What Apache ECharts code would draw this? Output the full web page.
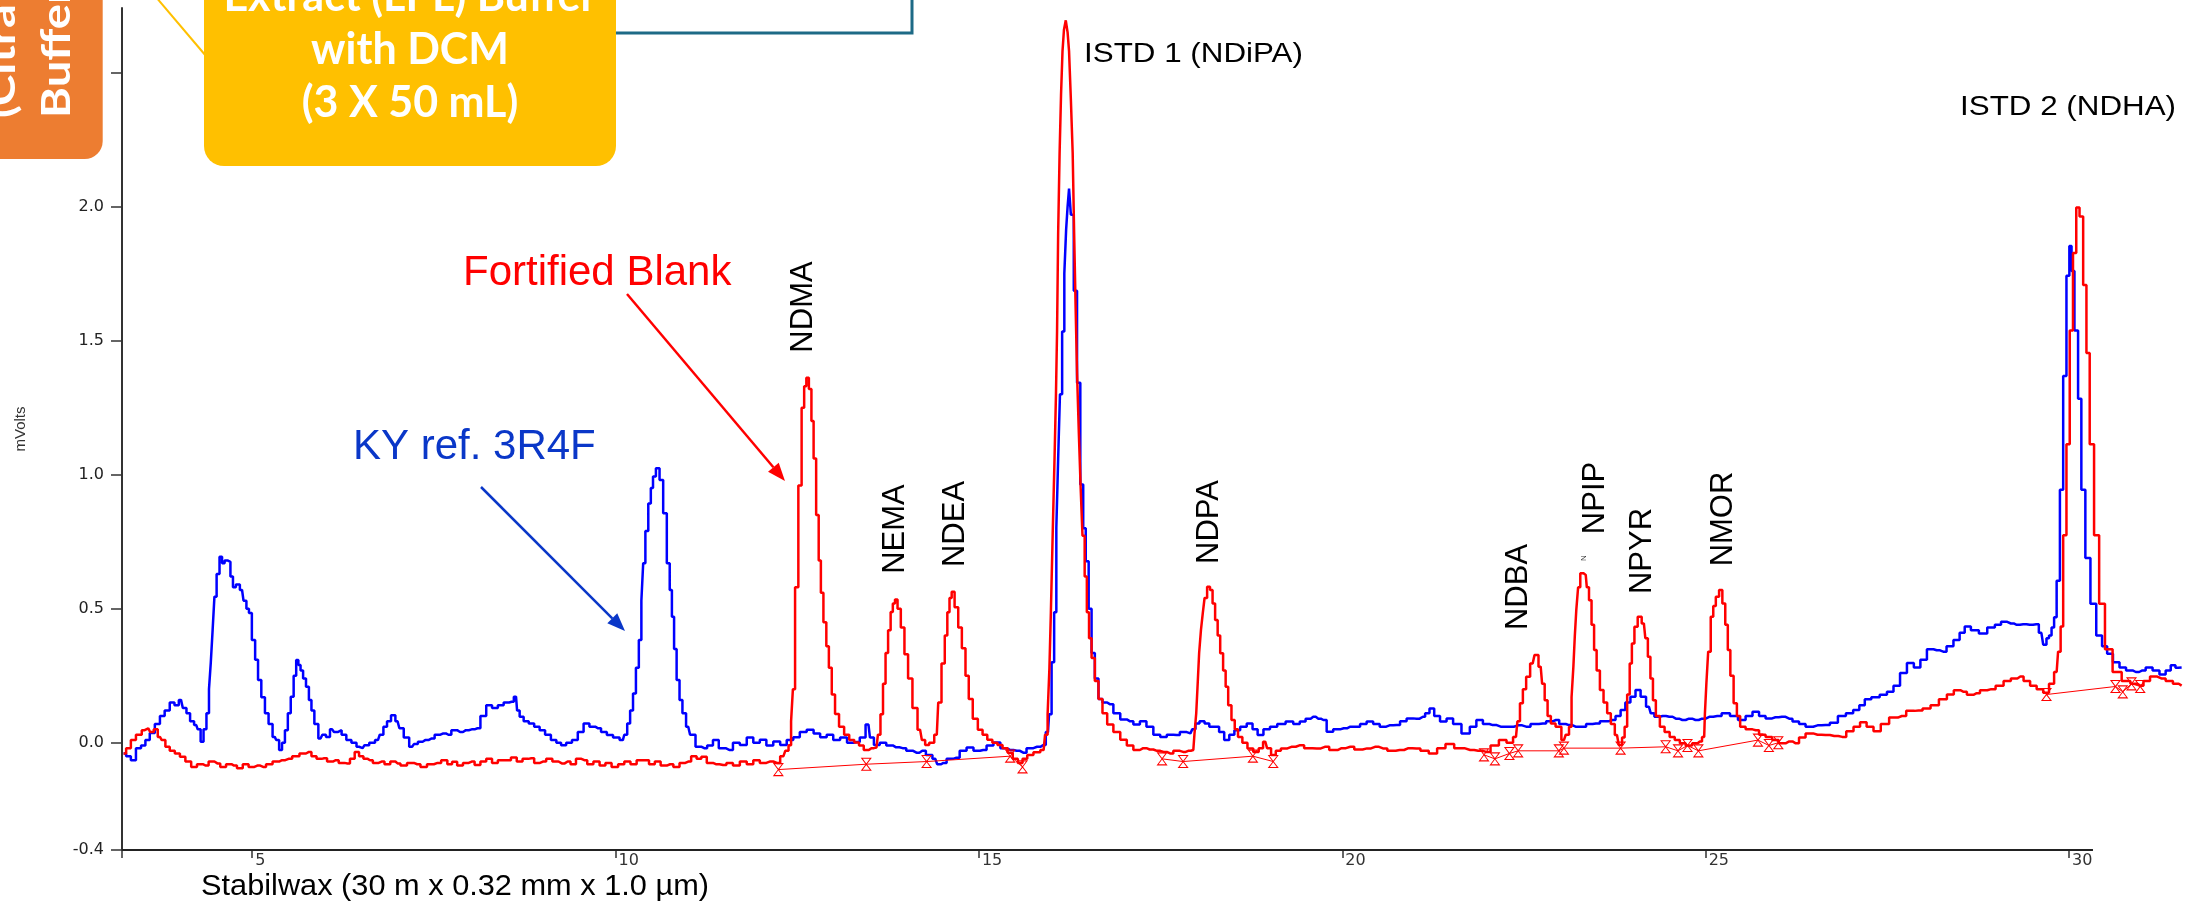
<!DOCTYPE html>
<html><head><meta charset="utf-8">
<script src="https://cdn.jsdelivr.net/npm/echarts@6/dist/echarts.min.js"></script>
<style>html,body{margin:0;padding:0;background:#fff;overflow:hidden}#c{width:2198px;height:906px}</style>
</head><body><div id="c"></div><script>
// ---------------- DATA ----------------
// KY ref. 3R4F trace: [time (min), signal (mVolts)]
const kyRef3R4F = [
[3.23,-0.04],[3.30,-0.05],[3.36,-0.065],[3.44,-0.02],[3.50,-0.01],[3.56,0.01],[3.62,0.036],[3.70,0.07],[3.76,0.10],[3.83,0.12],
[3.90,0.15],[3.96,0.14],[4.02,0.16],[4.07,0.13],[4.12,0.11],[4.17,0.08],[4.23,0.066],[4.27,0.05],[4.31,0.004],[4.35,0.05],
[4.39,0.11],[4.42,0.20],[4.44,0.30],[4.47,0.42],[4.49,0.545],[4.53,0.63],[4.57,0.694],[4.60,0.67],[4.64,0.68],[4.68,0.675],
[4.72,0.62],[4.75,0.58],[4.80,0.59],[4.86,0.57],[4.90,0.53],[4.94,0.50],[4.97,0.484],[5.02,0.383],[5.06,0.31],[5.10,0.234],
[5.15,0.17],[5.20,0.11],[5.25,0.07],[5.31,0.022],[5.35,0.01],[5.39,-0.027],[5.43,0.00],[5.47,0.047],[5.51,0.11],[5.55,0.172],
[5.59,0.25],[5.62,0.309],[5.65,0.29],[5.68,0.27],[5.72,0.24],[5.76,0.209],[5.80,0.16],[5.83,0.12],[5.88,0.07],[5.94,0.016],
[5.99,0.03],[6.04,0.022],[6.10,0.05],[6.15,0.04],[6.20,0.047],[6.26,0.03],[6.33,0.01],[6.40,0.00],[6.47,-0.015],[6.52,-0.02],
[6.57,-0.009],[6.65,0.00],[6.73,0.01],[6.78,0.03],[6.83,0.06],[6.88,0.08],[6.94,0.103],[7.00,0.08],[7.05,0.054],[7.12,0.02],
[7.20,-0.015],[7.25,-0.005],[7.31,0.004],[7.38,0.01],[7.47,0.016],[7.55,0.03],[7.63,0.035],[7.70,0.03],[7.78,0.047],[7.86,0.04],
[7.94,0.047],[8.02,0.05],[8.10,0.054],[8.18,0.10],[8.26,0.14],[8.34,0.13],[8.42,0.14],[8.50,0.15],[8.57,0.153],[8.63,0.172],
[8.66,0.12],[8.70,0.097],[8.77,0.08],[8.84,0.072],[8.92,0.06],[8.99,0.047],[9.07,0.03],[9.15,0.01],[9.22,0.00],[9.28,-0.009],
[9.36,0.00],[9.44,0.01],[9.52,0.04],[9.60,0.072],[9.68,0.06],[9.76,0.054],[9.84,0.04],[9.92,0.029],[10.01,0.02],[10.10,0.01],
[10.14,0.03],[10.18,0.072],[10.22,0.12],[10.26,0.184],[10.30,0.28],[10.34,0.383],[10.37,0.53],[10.39,0.67],[10.43,0.79],[10.47,0.893],
[10.50,0.95],[10.53,0.993],[10.58,1.024],[10.63,0.98],[10.68,0.856],[10.73,0.67],[10.76,0.57],[10.79,0.47],[10.82,0.35],[10.86,0.234],
[10.90,0.16],[10.94,0.11],[11.00,0.06],[11.05,0.03],[11.15,-0.015],[11.22,-0.02],[11.30,-0.01],[11.38,0.01],[11.46,-0.02],[11.57,-0.027],
[11.66,0.00],[11.76,-0.008],[11.85,0.02],[11.94,0.00],[12.03,0.011],[12.12,-0.01],[12.22,0.005],[12.31,-0.008],[12.40,0.01],[12.49,0.021],
[12.58,0.04],[12.68,0.049],[12.77,0.035],[12.86,0.021],[12.95,0.03],[13.04,0.01],[13.14,0.02],[13.23,0.00],[13.32,0.003],[13.40,0.02],
[13.48,0.068],[13.52,0.02],[13.59,-0.008],[13.68,0.00],[13.77,-0.01],[13.86,-0.017],[13.95,-0.02],[14.05,-0.03],[14.14,-0.037],[14.22,-0.03],
[14.32,-0.046],[14.40,-0.06],[14.45,-0.08],[14.51,-0.075],[14.60,-0.06],[14.69,-0.056],[14.78,-0.03],[14.88,-0.018],[14.97,-0.03],[15.06,-0.027],
[15.15,-0.01],[15.25,0.001],[15.34,-0.02],[15.43,-0.027],[15.52,-0.03],[15.61,-0.037],[15.70,-0.02],[15.80,-0.015],[15.89,-0.008],[15.95,0.04],
[15.98,0.106],[16.02,0.30],[16.05,0.487],[16.08,0.80],[16.10,1.058],[16.13,1.30],[16.16,1.534],[16.19,1.75],[16.21,1.915],[16.23,2.00],
[16.25,2.067],[16.28,1.97],[16.33,1.686],[16.37,1.343],[16.42,0.963],[16.45,0.80],[16.49,0.677],[16.53,0.50],[16.57,0.335],[16.62,0.24],
[16.67,0.163],[16.73,0.15],[16.80,0.144],[16.90,0.11],[16.99,0.087],[17.08,0.08],[17.17,0.068],[17.26,0.08],[17.35,0.06],[17.45,0.03],
[17.54,0.022],[17.63,0.03],[17.72,0.029],[17.81,0.04],[17.91,0.035],[17.96,0.05],[18.00,0.072],[18.07,0.08],[18.14,0.072],[18.20,0.06],
[18.27,0.06],[18.34,0.04],[18.41,0.01],[18.48,0.03],[18.55,0.047],[18.64,0.06],[18.73,0.072],[18.80,0.05],[18.87,0.029],[18.96,0.05],
[19.05,0.06],[19.16,0.07],[19.28,0.079],[19.37,0.07],[19.46,0.079],[19.53,0.09],[19.60,0.097],[19.67,0.09],[19.74,0.085],[19.83,0.041],
[19.92,0.05],[20.02,0.054],[20.11,0.06],[20.20,0.06],[20.29,0.07],[20.38,0.079],[20.47,0.07],[20.56,0.06],[20.65,0.065],[20.75,0.066],
[20.84,0.08],[20.93,0.091],[21.02,0.09],[21.11,0.097],[21.17,0.11],[21.23,0.128],[21.30,0.10],[21.39,0.079],[21.48,0.091],[21.57,0.07],
[21.71,0.035],[21.80,0.06],[21.89,0.085],[21.98,0.07],[22.07,0.066],[22.18,0.06],[22.30,0.06],[22.42,0.065],[22.53,0.06],[22.65,0.07],
[22.76,0.072],[22.85,0.08],[22.94,0.085],[23.03,0.07],[23.12,0.066],[23.21,0.06],[23.31,0.06],[23.40,0.07],[23.49,0.072],[23.60,0.08],
[23.72,0.085],[23.80,0.10],[23.86,0.122],[23.93,0.15],[24.00,0.172],[24.07,0.197],[24.14,0.172],[24.22,0.134],[24.27,0.11],[24.32,0.097],
[24.41,0.10],[24.50,0.097],[24.59,0.09],[24.68,0.085],[24.77,0.09],[24.86,0.085],[24.95,0.09],[25.05,0.097],[25.16,0.10],[25.28,0.11],
[25.39,0.10],[25.50,0.085],[25.60,0.10],[25.69,0.116],[25.78,0.10],[25.87,0.091],[25.96,0.095],[26.05,0.097],[26.15,0.09],[26.24,0.079],
[26.33,0.07],[26.42,0.06],[26.54,0.065],[26.65,0.066],[26.77,0.075],[26.87,0.10],[26.99,0.11],[27.07,0.122],[27.16,0.14],[27.22,0.162],
[27.34,0.17],[27.45,0.179],[27.54,0.19],[27.63,0.213],[27.72,0.26],[27.82,0.298],[27.91,0.281],[28.00,0.31],[28.09,0.349],[28.18,0.345],
[28.27,0.34],[28.36,0.36],[28.46,0.383],[28.53,0.41],[28.60,0.434],[28.70,0.42],[28.82,0.408],[28.93,0.43],[29.03,0.44],[29.10,0.451],
[29.20,0.445],[29.28,0.44],[29.37,0.442],[29.46,0.44],[29.55,0.442],[29.62,0.41],[29.67,0.366],[29.71,0.39],[29.74,0.40],[29.78,0.43],
[29.81,0.468],[29.85,0.604],[29.90,0.944],[29.94,1.368],[29.99,1.742],[30.02,1.853],[30.05,1.76],[30.10,1.538],[30.15,1.283],[30.19,0.944],
[30.26,0.689],[30.33,0.519],[30.42,0.40],[30.49,0.36],[30.56,0.332],[30.65,0.30],[30.74,0.281],[30.83,0.27],[30.92,0.264],[31.01,0.27],
[31.10,0.281],[31.20,0.27],[31.29,0.255],[31.37,0.27],[31.43,0.289],[31.50,0.28],[31.55,0.281]
];
// Fortified Blank trace: [time (min), signal (mVolts)]
const fortifiedBlank = [
[3.23,-0.04],[3.30,-0.02],[3.36,0.01],[3.44,0.03],[3.52,0.047],[3.57,0.054],[3.62,0.04],[3.67,0.05],[3.73,0.022],[3.78,0.01],
[3.83,-0.015],[3.90,-0.03],[3.97,-0.04],[4.04,-0.052],[4.12,-0.07],[4.20,-0.09],[4.28,-0.08],[4.36,-0.085],[4.44,-0.07],[4.52,-0.077],
[4.60,-0.09],[4.68,-0.08],[4.75,-0.085],[4.83,-0.095],[4.91,-0.08],[4.99,-0.09],[5.07,-0.085],[5.15,-0.09],[5.23,-0.08],[5.33,-0.07],
[5.41,-0.065],[5.50,-0.06],[5.60,-0.05],[5.70,-0.04],[5.78,-0.034],[5.85,-0.05],[5.92,-0.06],[5.99,-0.058],[6.07,-0.07],[6.15,-0.065],
[6.23,-0.075],[6.31,-0.077],[6.38,-0.06],[6.44,-0.034],[6.50,-0.05],[6.56,-0.06],[6.62,-0.065],[6.70,-0.075],[6.78,-0.07],[6.86,-0.08],
[6.94,-0.07],[7.00,-0.077],[7.08,-0.085],[7.18,-0.075],[7.27,-0.08],[7.36,-0.09],[7.45,-0.08],[7.55,-0.075],[7.65,-0.065],[7.72,-0.08],
[7.78,-0.071],[7.86,-0.085],[7.94,-0.075],[8.02,-0.07],[8.10,-0.083],[8.18,-0.07],[8.26,-0.06],[8.34,-0.075],[8.42,-0.065],[8.52,-0.065],
[8.60,-0.055],[8.68,-0.07],[8.76,-0.06],[8.84,-0.058],[8.92,-0.075],[9.00,-0.07],[9.09,-0.06],[9.17,-0.07],[9.26,-0.077],[9.34,-0.07],
[9.42,-0.08],[9.49,-0.06],[9.57,-0.065],[9.65,-0.08],[9.74,-0.07],[9.82,-0.085],[9.90,-0.075],[9.99,-0.09],[10.08,-0.08],[10.16,-0.07],
[10.25,-0.08],[10.33,-0.065],[10.42,-0.065],[10.50,-0.08],[10.58,-0.07],[10.66,-0.085],[10.75,-0.08],[10.84,-0.09],[10.92,-0.075],[11.00,-0.07],
[11.08,-0.05],[11.15,-0.06],[11.21,-0.052],[11.30,-0.075],[11.38,-0.08],[11.48,-0.083],[11.57,-0.075],[11.66,-0.085],[11.76,-0.07],[11.85,-0.08],
[11.94,-0.065],[12.03,-0.075],[12.12,-0.07],[12.22,-0.075],[12.31,-0.05],[12.36,-0.03],[12.40,-0.009],[12.43,0.08],[12.45,0.2],[12.49,0.58],
[12.54,0.96],[12.58,1.25],[12.61,1.33],[12.64,1.362],[12.68,1.32],[12.71,1.20],[12.74,1.06],[12.78,0.85],[12.81,0.68],[12.84,0.56],
[12.88,0.45],[12.92,0.36],[12.95,0.28],[13.00,0.18],[13.04,0.107],[13.11,0.06],[13.18,0.03],[13.25,0.01],[13.32,0.001],[13.38,-0.01],
[13.45,-0.027],[13.52,-0.02],[13.59,-0.018],[13.63,0.03],[13.66,0.106],[13.70,0.22],[13.73,0.335],[13.77,0.42],[13.80,0.488],[13.83,0.52],
[13.86,0.534],[13.90,0.50],[13.95,0.43],[14.00,0.33],[14.05,0.24],[14.12,0.13],[14.19,0.049],[14.24,0.01],[14.28,-0.008],[14.35,0.00],
[14.42,0.03],[14.46,0.15],[14.51,0.296],[14.55,0.40],[14.58,0.487],[14.61,0.54],[14.64,0.563],[14.69,0.506],[14.74,0.43],[14.79,0.353],
[14.84,0.25],[14.88,0.163],[14.95,0.09],[15.02,0.049],[15.08,0.03],[15.15,0.011],[15.22,0.00],[15.29,-0.008],[15.36,-0.02],[15.43,-0.037],
[15.50,-0.06],[15.57,-0.075],[15.63,-0.06],[15.70,-0.046],[15.80,-0.035],[15.89,-0.027],[15.93,0.03],[15.96,0.106],[15.98,0.28],[16.00,0.487],
[16.03,0.78],[16.05,1.058],[16.07,1.30],[16.08,1.534],[16.10,1.90],[16.12,2.2],[16.14,2.42],[16.16,2.58],[16.18,2.66],[16.21,2.695],
[16.23,2.65],[16.25,2.58],[16.28,2.40],[16.30,2.2],[16.32,1.90],[16.34,1.63],[16.36,1.38],[16.39,1.153],[16.41,0.95],[16.44,0.772],
[16.47,0.62],[16.50,0.487],[16.53,0.39],[16.57,0.316],[16.62,0.23],[16.67,0.163],[16.73,0.11],[16.80,0.068],[16.90,0.04],[16.99,0.011],
[17.08,-0.01],[17.17,-0.027],[17.26,-0.02],[17.35,-0.025],[17.45,-0.03],[17.54,-0.034],[17.63,-0.04],[17.72,-0.03],[17.81,-0.034],[17.88,-0.03],
[17.95,-0.027],[17.98,0.03],[18.00,0.11],[18.02,0.22],[18.04,0.334],[18.07,0.42],[18.09,0.483],[18.12,0.54],[18.16,0.582],[18.20,0.57],
[18.23,0.52],[18.27,0.458],[18.30,0.40],[18.34,0.334],[18.38,0.27],[18.41,0.209],[18.45,0.14],[18.50,0.085],[18.54,0.05],[18.59,0.022],
[18.66,0.00],[18.73,-0.021],[18.82,-0.034],[18.88,-0.02],[18.94,0.004],[18.99,-0.02],[19.05,-0.046],[19.12,-0.03],[19.19,-0.021],[19.30,-0.015],
[19.42,-0.009],[19.53,-0.02],[19.65,-0.021],[19.76,-0.015],[19.88,-0.027],[19.99,-0.02],[20.11,-0.015],[20.22,-0.025],[20.34,-0.021],[20.45,-0.015],
[20.56,-0.021],[20.68,-0.03],[20.79,-0.027],[20.91,-0.02],[21.02,-0.021],[21.13,-0.03],[21.25,-0.04],[21.36,-0.02],[21.48,-0.005],[21.60,-0.02],
[21.76,-0.027],[21.87,-0.03],[21.98,-0.034],[22.10,-0.01],[22.21,0.01],[22.31,0.00],[22.39,0.022],[22.43,0.08],[22.46,0.147],[22.51,0.20],
[22.55,0.246],[22.62,0.296],[22.67,0.327],[22.73,0.284],[22.77,0.22],[22.80,0.159],[22.85,0.10],[22.89,0.072],[22.98,0.06],[23.05,0.01],
[23.10,0.03],[23.14,0.06],[23.17,0.17],[23.19,0.284],[23.21,0.40],[23.23,0.495],[23.26,0.58],[23.29,0.632],[23.35,0.626],[23.38,0.58],
[23.41,0.532],[23.45,0.44],[23.48,0.346],[23.52,0.27],[23.57,0.197],[23.62,0.15],[23.67,0.11],[23.72,0.07],[23.78,0.029],[23.83,-0.008],
[23.87,0.02],[23.90,0.06],[23.94,0.18],[23.97,0.296],[24.00,0.37],[24.04,0.433],[24.09,0.47],[24.15,0.445],[24.19,0.39],[24.22,0.321],
[24.26,0.24],[24.29,0.159],[24.34,0.10],[24.40,0.06],[24.47,0.04],[24.54,0.022],[24.61,0.01],[24.68,-0.002],[24.77,-0.01],[24.86,-0.002],
[24.92,0.005],[24.98,0.022],[25.00,0.11],[25.02,0.22],[25.05,0.34],[25.09,0.47],[25.12,0.51],[25.16,0.545],[25.21,0.57],[25.25,0.52],
[25.29,0.44],[25.32,0.346],[25.36,0.25],[25.41,0.147],[25.45,0.10],[25.50,0.06],[25.60,0.05],[25.69,0.047],[25.78,0.03],[25.87,0.022],
[25.96,0.01],[26.05,-0.002],[26.15,0.005],[26.24,-0.002],[26.33,0.02],[26.42,0.035],[26.54,0.03],[26.65,0.029],[26.77,0.025],[26.88,0.022],
[26.99,0.043],[27.08,0.06],[27.17,0.077],[27.26,0.06],[27.36,0.043],[27.46,0.07],[27.59,0.094],[27.70,0.10],[27.82,0.119],[27.93,0.12],
[28.04,0.128],[28.15,0.14],[28.27,0.162],[28.37,0.18],[28.46,0.196],[28.55,0.19],[28.64,0.179],[28.73,0.185],[28.82,0.196],[28.93,0.20],
[29.05,0.213],[29.15,0.23],[29.25,0.24],[29.33,0.247],[29.42,0.23],[29.51,0.213],[29.60,0.20],[29.69,0.187],[29.76,0.22],[29.83,0.264],
[29.87,0.34],[29.90,0.434],[29.94,0.774],[29.99,1.114],[30.03,1.538],[30.08,1.827],[30.12,1.997],[30.17,1.963],[30.22,1.708],[30.26,1.454],
[30.31,1.114],[30.38,0.774],[30.45,0.519],[30.54,0.349],[30.66,0.264],[30.79,0.23],[30.90,0.22],[30.98,0.213],[31.07,0.23],[31.16,0.247],
[31.27,0.24],[31.39,0.23],[31.47,0.22],[31.55,0.213]
];
// Integration baselines of the fortified blank (peak start / end markers), one array per segment
const baselineSeg1 = [[12.24,-0.10],[13.45,-0.08],[14.28,-0.07],[15.43,-0.05],[15.60,-0.09]];
const baselineSeg2 = [[17.52,-0.06],[17.81,-0.07],[18.77,-0.05],[19.05,-0.07]];
const baselineSeg3 = [[21.95,-0.045],[22.10,-0.06],[22.30,-0.04],[22.42,-0.03],[22.98,-0.03],[23.05,-0.02],[23.83,-0.02],[24.45,-0.015],[24.62,-0.03],[24.75,-0.01],[24.90,-0.03],[25.72,0.01],[25.87,-0.01],[26.00,0.0]];
const baselineSeg4 = [[29.69,0.18],[30.64,0.21],[30.74,0.19],[30.86,0.22],[30.98,0.21]];
// Axis
const xRange = [3.208, 31.555];
const xAxisLineEnd = 30.33;
const yRange = [-0.4, 2.741];
const xTickValues = [5, 10, 15, 20, 25, 30];
const yTickValues = [-0.4, 0, 0.5, 1, 1.5, 2];
const yTickMarks = [-0.4, 0, 0.5, 1, 1.5, 2, 2.5];
const peakNames = ['NDMA', 'NEMA', 'NDEA', 'NDPA', 'NDBA', 'NPIP', 'NPYR', 'NMOR'];

// ---------------- LAYOUT / STYLE ----------------
const peakLabelPos = [[803,307],[895,529],[955,524],[1209,522],[1518,587],[1595,498],[1642,551],[1723,519]];
const SANS = "'Liberation Sans', Arial, Helvetica, sans-serif";
const BOLD = "'Lato', 'Noto Sans', sans-serif";
const RED = '#ff0000', BLUE = '#0000ff', ANNOT_BLUE = '#0a37c8';

function arrow(x1, y1, x2, y2, color, lw, hl, hw) {
  const a = Math.atan2(y2 - y1, x2 - x1);
  const bx = x2 - hl * Math.cos(a), by = y2 - hl * Math.sin(a);
  const px = -Math.sin(a) * hw / 2, py = Math.cos(a) * hw / 2;
  return [
    {type: 'line', z: 100, shape: {x1: x1, y1: y1, x2: bx, y2: by}, style: {stroke: color, lineWidth: lw}},
    {type: 'polygon', z: 100, shape: {points: [[x2, y2], [bx + px, by + py], [bx - px, by - py]]}, style: {fill: color}}
  ];
}
function txt(o) {
  return {type: 'text', z: 110, x: o.x, y: o.y, rotation: o.rot || 0, scaleX: o.sx || 1,
    style: {text: o.text, fill: o.fill || '#000', font: o.font, align: o.align || 'left', verticalAlign: o.va || 'middle'}};
}

const graphics = [];
// slide decorations (top-left)
graphics.push({type: 'rect', z: 90, shape: {x: 560, y: -20, width: 352, height: 53}, style: {fill: '#fff', stroke: '#1d6a86', lineWidth: 3}});
graphics.push({type: 'line', z: 95, shape: {x1: 150, y1: -10, x2: 206, y2: 56}, style: {stroke: '#FFC000', lineWidth: 2}});
graphics.push({type: 'rect', z: 96, shape: {x: 204, y: -30, width: 412, height: 196, r: [0, 0, 20, 20]}, style: {fill: '#FFC000'}});
graphics.push(txt({x: 410, y: -3, text: 'Extract (LPL) Buffer', fill: '#fff', font: 'bold 43px ' + BOLD, align: 'center'}));
graphics.push(txt({x: 410, y: 50, text: 'with DCM', fill: '#fff', font: 'bold 43px ' + BOLD, align: 'center'}));
graphics.push(txt({x: 410, y: 103, text: '(3 X 50 mL)', fill: '#fff', font: 'bold 43px ' + BOLD, align: 'center'}));
graphics.push({type: 'rect', z: 96, shape: {x: -30, y: -30, width: 132.7, height: 189, r: [0, 0, 18, 18]}, style: {fill: '#ED7D31'}});
graphics.push(txt({x: 2, y: 118, rot: Math.PI / 2, sx: 1.18, text: '(Citrate', fill: '#fff', font: 'bold 40px ' + BOLD}));
graphics.push(txt({x: 57, y: 118, rot: Math.PI / 2, sx: 1.18, text: 'Buffer)', fill: '#fff', font: 'bold 40px ' + BOLD}));
// annotations
graphics.push(txt({x: 463, y: 273, text: 'Fortified Blank', fill: RED, font: '42px ' + SANS}));
graphics.push(txt({x: 353, y: 447, text: 'KY ref. 3R4F', fill: ANNOT_BLUE, font: '42px ' + SANS}));
graphics.push(...arrow(627, 294, 785, 481, RED, 2.5, 18, 14));
graphics.push(...arrow(481, 487, 625, 631, ANNOT_BLUE, 2.5, 18, 14));
graphics.push(txt({x: 1084, y: 54, sx: 1.12, text: 'ISTD 1 (NDiPA)', font: '28px ' + SANS}));
graphics.push(txt({x: 1960, y: 107, sx: 1.12, text: 'ISTD 2 (NDHA)', font: '28px ' + SANS}));
graphics.push(txt({x: 201, y: 887, sx: 1.06, text: 'Stabilwax (30 m x 0.32 mm x 1.0 µm)', font: '29px ' + SANS}));
peakNames.forEach((n, i) => {
  graphics.push(txt({x: peakLabelPos[i][0], y: peakLabelPos[i][1], rot: Math.PI / 2, text: n, font: '31px ' + SANS, align: 'center'}));
});
graphics.push(txt({x: 1584, y: 558, rot: Math.PI / 2, text: 'N', font: '8px ' + SANS, fill: '#333', align: 'center'}));

const hourglass = 'path://M0,0L10,0L5,6L10,12L0,12L5,6Z';
function baselineSeries(seg) {
  return {type: 'line', data: seg, z: 4, silent: true, animation: false,
    lineStyle: {color: RED, width: 1}, symbol: hourglass, symbolSize: [9, 12], showSymbol: true,
    itemStyle: {color: 'rgba(255,255,255,0)', borderColor: RED, borderWidth: 1}};
}

const chart = echarts.init(document.getElementById('c'), null, {renderer: 'canvas'});
chart.setOption({
  animation: false,
  backgroundColor: '#fff',
  grid: {left: 122, right: 16, top: 8, bottom: 56, containLabel: false, outerBoundsMode: 'none'},
  xAxis: {
    type: 'value', min: xRange[0], max: xRange[1],
    axisLine: {show: false, onZero: false},
    splitLine: {show: false},
    axisTick: {show: true, length: 8, customValues: [xRange[0]].concat(xTickValues), lineStyle: {color: '#333', width: 1.5}},
    axisLabel: {customValues: xTickValues, align: 'left', margin: 3, padding: [0, 0, 0, 3], fontSize: 16,
      fontFamily: "'DejaVu Sans', sans-serif", color: '#333', formatter: v => String(Math.round(v))}
  },
  yAxis: {
    type: 'value', min: yRange[0], max: yRange[1],
    name: 'mVolts', nameLocation: 'middle', nameGap: 94, nameRotate: 90,
    nameTextStyle: {fontSize: 15, fontFamily: SANS, color: '#333'},
    axisLine: {show: true, onZero: false, lineStyle: {color: '#333', width: 2}},
    splitLine: {show: false},
    axisTick: {show: true, length: 11, customValues: yTickMarks, lineStyle: {color: '#333', width: 1.5}},
    axisLabel: {customValues: yTickValues, margin: 18, fontSize: 16, fontFamily: "'DejaVu Sans', sans-serif", color: '#222',
      formatter: v => v.toFixed(1)}
  },
  series: [
    {name: 'x axis line', type: 'line', data: [[xRange[0], yRange[0]], [xAxisLineEnd, yRange[0]]], silent: true, z: 6,
      symbol: 'none', lineStyle: {color: '#222', width: 2}},
    {name: 'KY ref. 3R4F', type: 'line', data: kyRef3R4F, symbol: 'none', z: 2, step: 'middle',
      lineStyle: {color: BLUE, width: 2.5}},
    {name: 'Fortified Blank', type: 'line', data: fortifiedBlank, symbol: 'none', z: 3, step: 'middle',
      lineStyle: {color: RED, width: 2.5}},
    baselineSeries(baselineSeg1), baselineSeries(baselineSeg2), baselineSeries(baselineSeg3), baselineSeries(baselineSeg4)
  ],
  graphic: graphics
});
</script></body></html>
